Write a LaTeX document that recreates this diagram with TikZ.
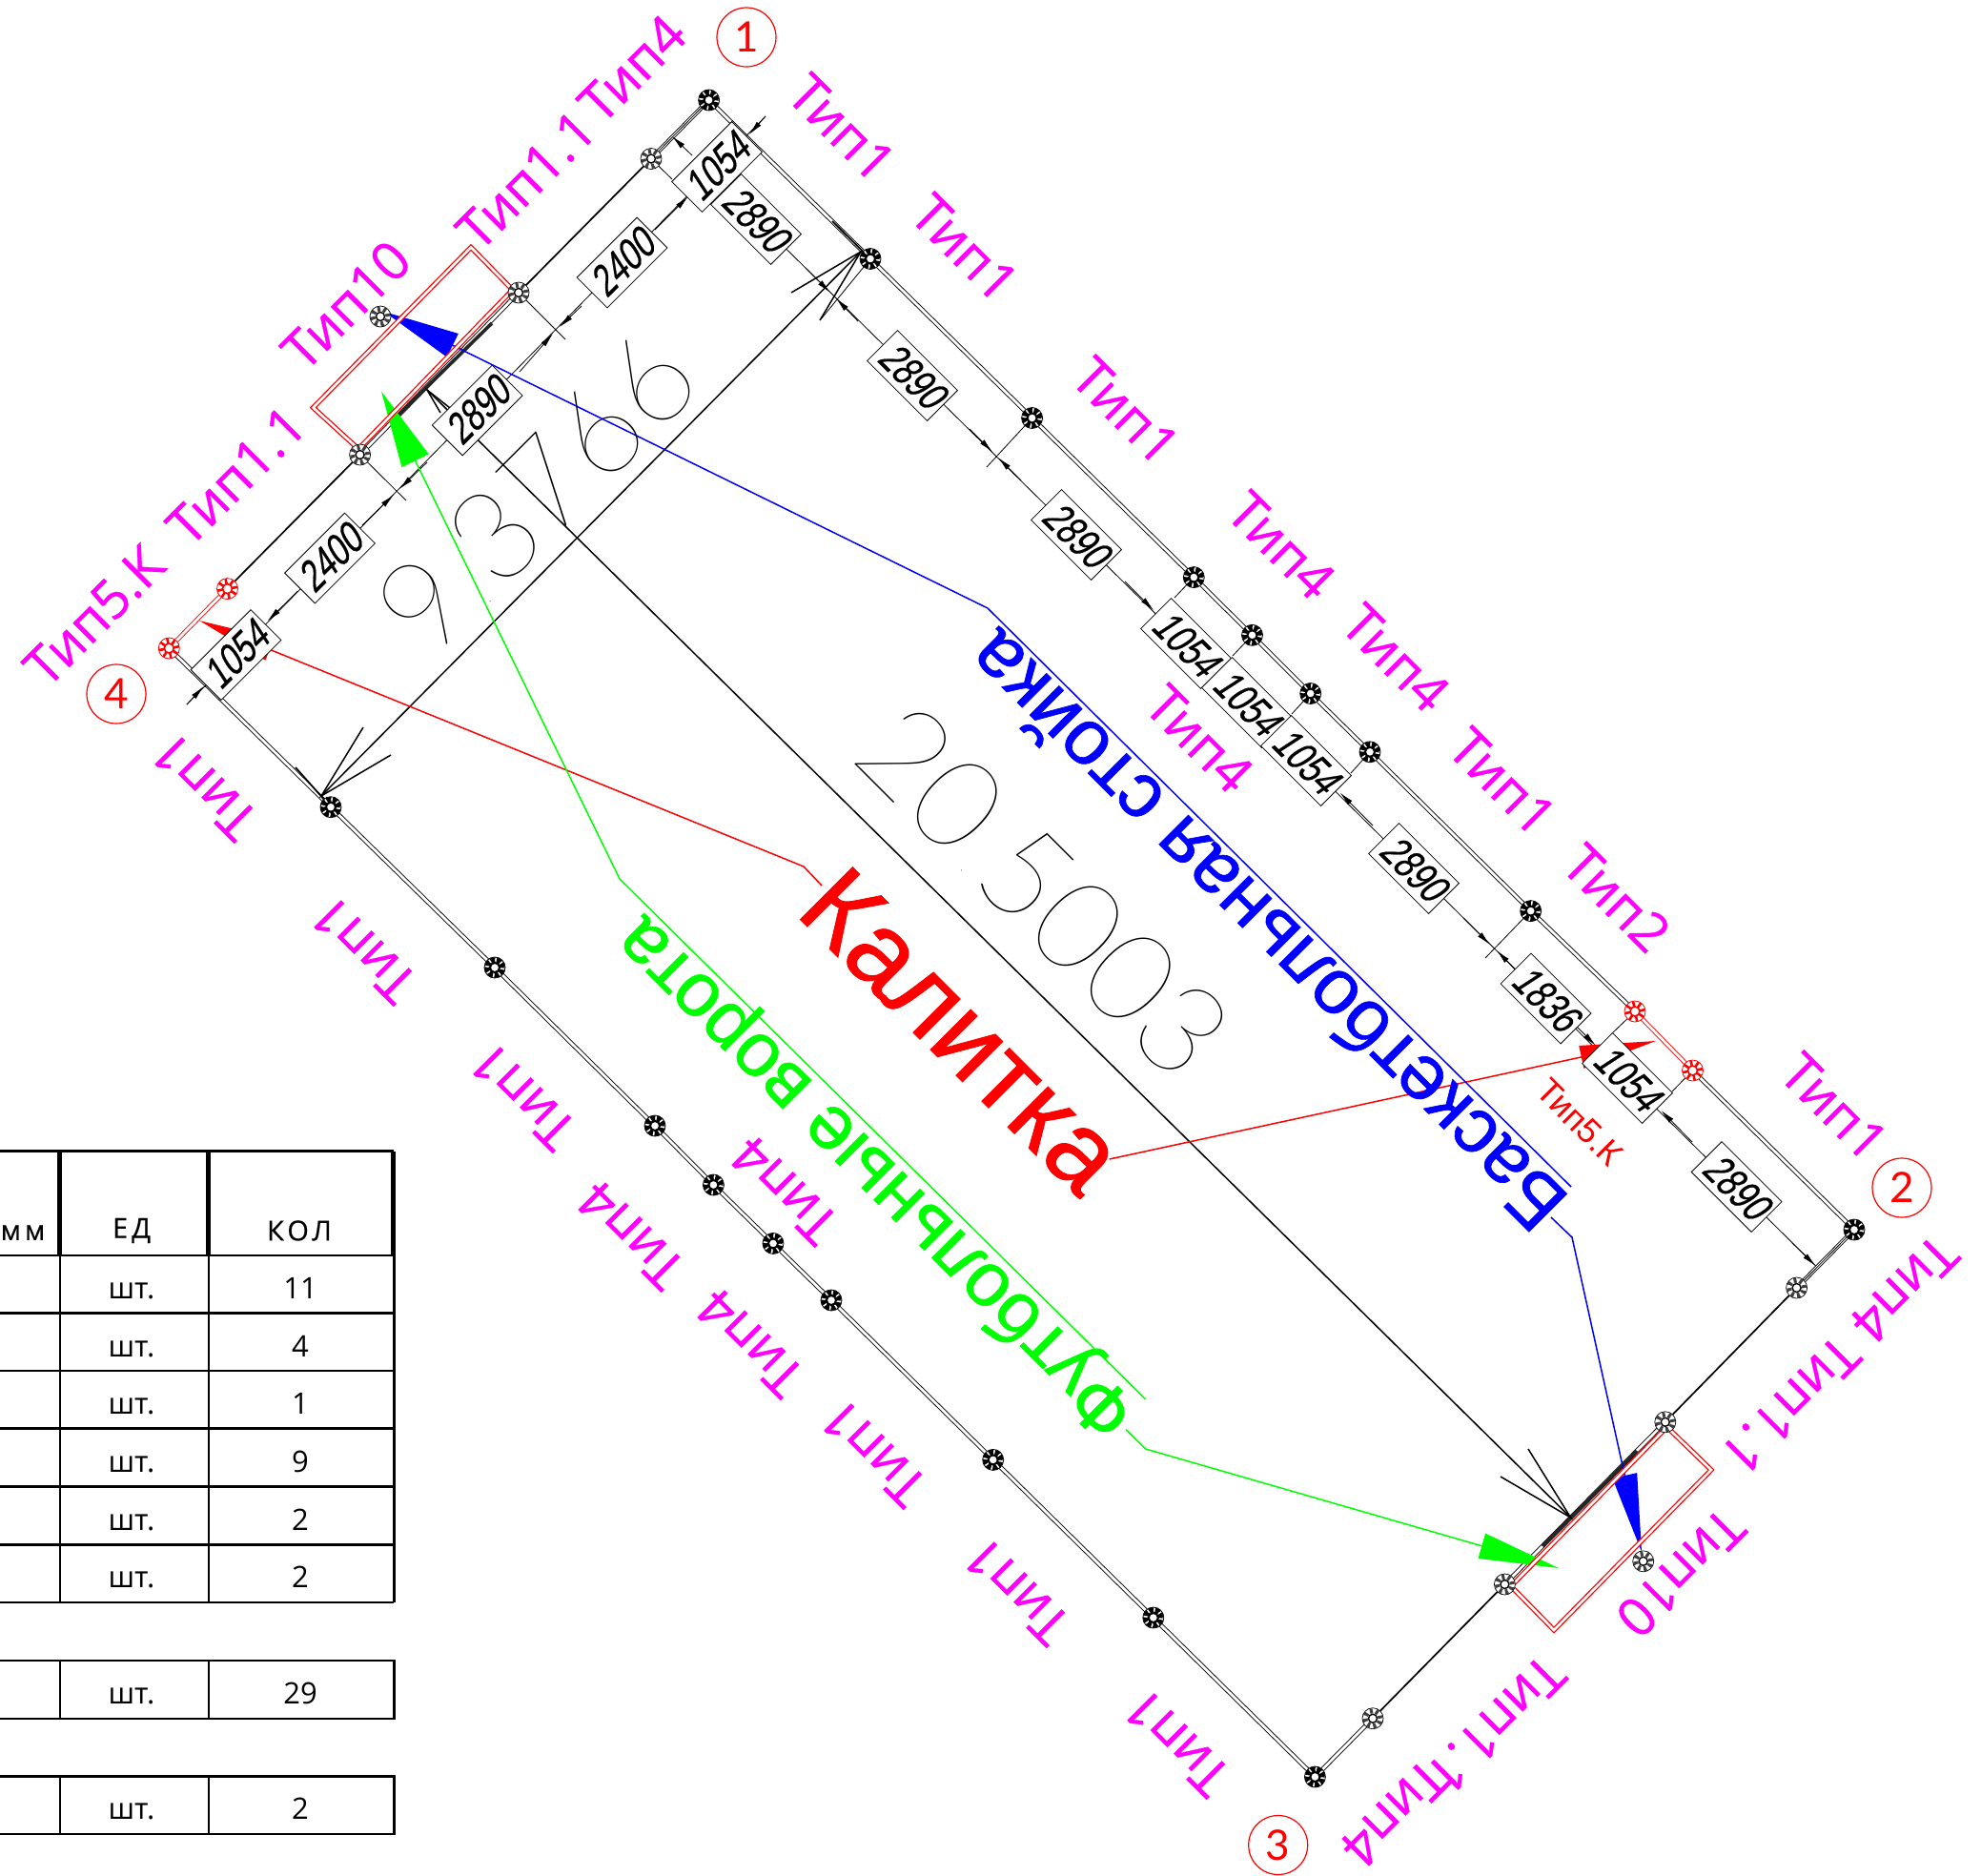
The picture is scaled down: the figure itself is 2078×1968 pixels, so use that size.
\documentclass[tikz,border=0pt]{standalone}
\usepackage{fontspec}
\usepackage{graphicx}
\setmainfont{Liberation Sans}
\newfontfamily\magf[FakeBold=0.5]{Open Sans}
\newfontfamily\thinf{Lato}[UprightFont=* Hairline]
\newfontfamily\circf{Lato}
\newfontfamily\tabf[LetterSpace=14,FakeBold=0.6]{Open Sans}
\newfontfamily\tabn{Open Sans}
\newfontfamily\boldf[FakeBold=0.8]{Liberation Sans}
\newfontfamily\dimf[FakeSlant=0.28,FakeBold=0.5]{Liberation Sans}
\usetikzlibrary{arrows.meta}
\definecolor{mg}{RGB}{255,0,255}
\definecolor{rd}{RGB}{255,0,0}
\definecolor{gn}{RGB}{0,255,0}
\definecolor{bl}{RGB}{0,0,255}
\newcommand\dimt[1]{\scalebox{.76}[1]{\dimf\fontsize{45}{45}\selectfont #1}}
\pgfdeclarelayer{back}
\pgfsetlayers{back,main}
\tikzset{
  postn/.style={circle,draw=black,fill=white,minimum size=22pt,inner sep=0pt,line width=.8pt,path picture={
    \draw[black,line width=5.5pt,dash pattern=on 4.4pt off 1.8pt] (path picture bounding box.center) circle[radius=8pt];
    \draw[black,fill=white,line width=2pt] (path picture bounding box.center) circle[radius=5pt];}},
  postr/.style={circle,draw=rd,fill=white,minimum size=22pt,inner sep=0pt,line width=.8pt,path picture={
    \draw[rd,line width=5.5pt,dash pattern=on 2.6pt off 3.7pt] (path picture bounding box.center) circle[radius=8pt];
    \draw[rd,fill=white,line width=1.6pt] (path picture bounding box.center) circle[radius=5pt];}},
  postl/.style={circle,draw=black,fill=white,minimum size=22pt,inner sep=0pt,line width=.7pt,path picture={
    \draw[black!75,line width=5pt,dash pattern=on 3pt off 3.3pt] (path picture bounding box.center) circle[radius=8pt];
    \draw[black,fill=white,line width=1.4pt] (path picture bounding box.center) circle[radius=4.5pt];}},
  dimbox/.style={draw=black,fill=white,minimum width=89pt,minimum height=45pt,inner sep=0pt,line width=.8pt},
  maglab/.style={text=mg,font=\magf\fontsize{56}{56}\selectfont,inner sep=0pt},
  wall/.style={draw=black,line width=.9pt,double=white,double distance=2.8pt},
  wallr/.style={draw=rd,line width=.9pt,double=white,double distance=2.8pt},
  walls/.style={draw=black,line width=1.7pt},
  wallc/.style={draw=black,line width=.8pt},
  wallt/.style={draw=black!85,line width=3.6pt},
  thinl/.style={draw=black,line width=.8pt},
  dima/.style={draw=black,line width=.8pt,-{Latex[length=15pt,width=6pt]}},
  bigdim/.style={draw=black,line width=1.5pt},
  circlab/.style={circle,draw=rd,line width=1.2pt,minimum size=62pt,inner sep=0pt,text=rd,font=\circf\fontsize{44}{44}\selectfont},
  leadr/.style={draw=rd,line width=1.5pt},
  leadg/.style={draw=gn,line width=1.5pt},
  leadb/.style={draw=bl,line width=1.5pt},
  redrect/.style={draw=rd,line width=1.3pt,double=white,double distance=2.6pt,line join=miter},
  tabl/.style={draw=black,line width=2.4pt},
  tabh/.style={draw=black,line width=5pt},
  tabt/.style={font=\tabn\fontsize{31}{31}\selectfont,inner sep=0pt},
  tabhd/.style={font=\tabf\fontsize{29}{29}\selectfont,inner sep=0pt},
  bigt/.style={font=\thinf\fontsize{132}{132}\selectfont,inner sep=0pt,text=black}
}
\begin{document}
\begin{tikzpicture}[x=1pt,y=-1pt]
\useasboundingbox (0,0) rectangle (2078,1968);
% posts
\node[postn] (p1) at (743.6,105) {};
\node[postl] (p2) at (683,166.5) {};
\node[postl] (p3) at (544,307) {};
\node[postl] (p4) at (377.6,477) {};
\node[postr] (p5) at (238.5,617.6) {};
\node[postr] (p6) at (177.3,680) {};
\node[postn] (p7) at (347,846.7) {};
\node[postn] (q1) at (519,1015) {};
\node[postn] (q2) at (687,1181) {};
\node[postn] (q3) at (748.4,1243) {};
\node[postn] (q4) at (811,1304.4) {};
\node[postn] (q5) at (872,1364) {};
\node[postn] (q6) at (1041.7,1531.4) {};
\node[postn] (q7) at (1209.8,1697) {};
\node[postn] (c3) at (1379.4,1864) {};
\node[postl] (s1) at (1440,1802.7) {};
\node[postl] (s2) at (1578.4,1662) {};
\node[postl] (s3) at (1746.8,1491.8) {};
\node[postl] (s4) at (1884.6,1351) {};
\node[postn] (c2) at (1945,1290) {};
\node[postr] (r1) at (1775.5,1123) {};
\node[postr] (r2) at (1715,1061) {};
\node[postn] (t1) at (1605.7,955.6) {};
\node[postn] (t2) at (1437,788.8) {};
\node[postn] (t3) at (1374.7,727.5) {};
\node[postn] (t4) at (1313.5,666.3) {};
\node[postn] (t5) at (1252.3,605.6) {};
\node[postn] (t6) at (1082.6,438.5) {};
\node[postn] (t7) at (913,271.5) {};
\node[postl] (g1) at (399,332) {};
\node[postl] (g2) at (1723.7,1637.8) {};
% dimension boxes
\node[dimbox,rotate=-45] (bb1) at (793,230) {\dimt{2890}};
\node[dimbox,rotate=45] (ba1) at (752,175) {\dimt{1054}};
\node[dimbox,rotate=45] (ba2) at (652.5,275.5) {\dimt{2400}};
\node[dimbox,rotate=45] (ba3) at (500.7,430.5) {\dimt{2890}};
\node[dimbox,rotate=45] (ba4) at (346,585.5) {\dimt{2400}};
\node[dimbox,rotate=45] (ba5) at (247.5,687) {\dimt{1054}};
\node[dimbox,rotate=-45] (bb2) at (957,394) {\dimt{2890}};
\node[dimbox,rotate=-45] (bb3) at (1129,561) {\dimt{2890}};
\node[dimbox,rotate=-45] (bb4) at (1244,675) {\dimt{1054}};
\node[dimbox,rotate=-45] (bb5) at (1308,737) {\dimt{1054}};
\node[dimbox,rotate=-45] (bb6) at (1370,798) {\dimt{1054}};
\node[dimbox,rotate=-45] (bb7) at (1483,911) {\dimt{2890}};
\node[dimbox,rotate=-45] (bb8) at (1621.5,1047.5) {\dimt{1836}};
\node[dimbox,rotate=-45] (bb9) at (1707,1131) {\dimt{1054}};
\node[dimbox,rotate=-45] (bb10) at (1821.6,1245) {\dimt{2890}};
% free coordinates
\coordinate (da1) at (803,122);
\coordinate (da2) at (196,739);
\coordinate (db1) at (770,207);
\coordinate (db2) at (1904.6,1328);
\coordinate (ta) at (593,356);
\coordinate (tb) at (426,525);
\coordinate (tc) at (861,335);
\coordinate (td) at (1035,490);
\coordinate (te) at (1558,1005);
\coordinate (tf) at (705,188);
\coordinate (tg) at (1232,627);
\coordinate (th) at (1293,688);
\coordinate (ti) at (1355,749);
\coordinate (tj) at (1417,811);
\coordinate (tk) at (1691,1084);
\coordinate (tl) at (1754,1145);
\coordinate (rl1) at (843,909);
\coordinate (rl2) at (862,929);
\coordinate (rl3) at (287,683);
\coordinate (rtip1) at (209,651);
\coordinate (rr1) at (1163.6,1216);
\coordinate (rtip2) at (1737,1092);
\coordinate (bl1) at (1036,638);
\coordinate (bl2) at (1648,1245);
\coordinate (bl3) at (1627,1277);
\coordinate (bl4) at (1649,1298);
\coordinate (btip1) at (403,327);
\coordinate (btip2) at (1722,1628);
\coordinate (gl1) at (650,922);
\coordinate (gl2) at (1201.7,1468);
\coordinate (gl3) at (1181,1499.6);
\coordinate (gl4) at (1201.7,1520);
\coordinate (gtip1) at (400,410.5);
\coordinate (gtip2) at (1635,1645);
\coordinate (bda) at (337,835);
\coordinate (bdb) at (903,264);
\coordinate (bdc) at (448,409);
\coordinate (bdd) at (1647.6,1592);
\begin{pgfonlayer}{back}
 % walls
 \draw[wall] (p1.center) -- (t7.center) -- (t6.center) -- (t5.center) -- (t4.center) -- (t3.center) -- (t2.center) -- (t1.center) -- (r2.center);
 \draw[wallr] (r2.center) -- (r1.center);
 \draw[wall] (r1.center) -- (c2.center) -- (s4.center);
 \draw[walls] (s4.center) -- (s3.center);
 \draw[wall] (s3.center) -- (s2.center);
 \draw[walls] (s2.center) -- (s1.center);
 \draw[wall] (s1.center) -- (c3.center) -- (q7.center) -- (q6.center) -- (q5.center) -- (q4.center) -- (q3.center) -- (q2.center) -- (q1.center) -- (p7.center) -- (p6.center);
 \draw[wallr] (p6.center) -- (p5.center);
 \draw[walls] (p5.center) -- (p4.center);
 \draw[wall] (p4.center) -- (p3.center);
 \draw[walls] (p3.center) -- (p2.center);
 \draw[wall] (p2.center) -- (p1.center);
 % heavy wall parts
 \draw[wallt] (516,339) -- (411,442);
 \draw[wallt] (1618,1622) -- (1717,1522);
 \draw[walls] (873,232) -- (t7.center);
 \draw[walls] (310,805) -- (p7.center);
 \draw[wallc] (p1.center) -- (p2.center);
 \draw[wallc] (c2.center) -- (s4.center);
 % dimension lines
 \draw[thinl] (da1) -- (da2);
 \draw[thinl] (db1) -- (db2);
 \draw[thinl] (p3.center) -- (ta);
 \draw[thinl] (p4.center) -- (tb);
 \draw[thinl] (p2.center) -- (tf);
 \draw[thinl] (t7.center) -- (tc);
 \draw[thinl] (t6.center) -- (td);
 \draw[thinl] (t5.center) -- (tg);
 \draw[thinl] (t4.center) -- (th);
 \draw[thinl] (t3.center) -- (ti);
 \draw[thinl] (t2.center) -- (tj);
 \draw[thinl] (t1.center) -- (te);
 \draw[thinl] (r2.center) -- (tk);
 \draw[thinl] (r1.center) -- (tl);
 % dimension arrowheads
 \draw[dima] (803,122) -- (786,141);
 \draw[dima] (726,163) -- (705,143);
 \draw[dima] (687,241) -- (722,206);
 \draw[dima] (610,321) -- (587,343);
 \draw[dima] (545,390) -- (580,350);
 \draw[dima] (380,551) -- (413,519);
 \draw[dima] (448,485) -- (419,513);
 \draw[dima] (312.5,620) -- (280.6,651.5);
 \draw[dima] (196,739) -- (213.6,720);
 \draw[dima] (845,281) -- (871,307);
 \draw[dima] (900,337) -- (877,313);
 \draw[dima] (1017,450) -- (1041,474);
 \draw[dima] (1071,504) -- (1047,480);
 \draw[dima] (1180,610) -- (1210,640);
 \draw[dima] (1440,866) -- (1405.6,831.6);
 \draw[dima] (1535,963) -- (1563,991);
 \draw[dima] (1592,1020) -- (1570,997);
 \draw[dima] (1650,1073) -- (1674,1097);
 \draw[dima] (1775,1198) -- (1742.5,1165);
 \draw[dima] (1880,1304) -- (1904.6,1328);
 % big dimensions
 \draw[bigdim] (bda) -- (bdb);
 \draw[bigdim] (bdc) -- (bdd);
 \draw[bigdim] (830,307) -- (bdb) -- (860,336);
 \draw[bigdim] (381,763) -- (bda) -- (410,792);
 \draw[bigdim] (472,428) -- (bdc) -- (462,433);
 \draw[bigdim] (1603,1520) -- (bdd) -- (1574,1549);
 % leaders
 \draw[leadr,-{Triangle[length=80pt,width=24pt]}] (rl2) -- (rl1) -- (rl3) -- (rtip1);
 \draw[leadr,-{Triangle[length=80pt,width=24pt]}] (rr1) -- (rtip2);
 \draw[leadb] (bl2) -- (bl1);
 \draw[leadb,-{Triangle[length=80pt,width=27pt]}] (bl1) -- (btip1);
 \draw[leadb,-{Triangle[length=82pt,width=26pt]}] (bl3) -- (bl4) -- (btip2);
 \draw[leadg] (gl2) -- (gl1);
 \draw[leadg,-{Triangle[length=81pt,width=31pt]}] (gl1) -- (gtip1);
 \draw[leadg,-{Triangle[length=84pt,width=27pt]}] (gl3) -- (gl4) -- (gtip2);
 % red rectangles
 \draw[redrect] (494,259.5) -- (537.7,304) -- (376,471) -- (328.5,427.6) -- cycle;
 \draw[redrect] (1748.6,1497) -- (1795,1542) -- (1630,1710) -- (1585,1664) -- cycle;
\end{pgfonlayer}
% magenta labels
\node[maglab,rotate=-45] (m1) at (883,134) {Тип1};
\node[maglab,rotate=-45] (m2) at (1012,260) {Тип1};
\node[maglab,rotate=-45] (m3) at (1181,431) {Тип1};
\node[maglab,rotate=-45] (m4) at (1344,572) {Тип4};
\node[maglab,rotate=-45] (m5) at (1464,690) {Тип4};
\node[maglab,rotate=-45] (m6) at (1258,775) {Тип4};
\node[maglab,rotate=-45] (m7) at (1576,820) {Тип1};
\node[maglab,rotate=-45] (m8) at (1696,942) {Тип2};
\node[maglab,rotate=-45] (m9) at (1924,1161) {Тип1};
\node[maglab,rotate=45] (m10) at (663,72) {Тип4};
\node[maglab,rotate=45] (m11) at (552,189) {Тип1.1};
\node[maglab,rotate=45] (m12) at (363,320) {Тип10};
\node[maglab,rotate=45] (m13) at (248,499) {Тип1.1};
\node[maglab,rotate=45] (m14) at (99,646) {Тип5.К};
\node[maglab,rotate=135] (n1) at (214,825) {Тип1};
\node[maglab,rotate=135] (n2) at (381,996) {Тип1};
\node[maglab,rotate=135] (n3) at (548,1150) {Тип1};
\node[maglab,rotate=135] (n4) at (662,1296) {Тип4};
\node[maglab,rotate=135] (n5) at (823,1249) {Тип4};
\node[maglab,rotate=135] (n6) at (787,1409) {Тип4};
\node[maglab,rotate=135] (n7) at (916,1524) {Тип1};
\node[maglab,rotate=135] (n8) at (1066,1669) {Тип1};
\node[maglab,rotate=135] (n9) at (1234,1828) {Тип1};
\node[maglab,rotate=225] (u1) at (1763,1650) {Тип10};
\node[maglab,rotate=225] (u2) at (1569,1809) {Тип1.1};
\node[maglab,rotate=225] (u3) at (1463,1902) {Тип4};
\node[maglab,rotate=225] (u4) at (1878,1474) {Тип1.1};
\node[maglab,rotate=225] (u5) at (1998,1352) {Тип4};
\node[rotate=-45,text=rd,inner sep=0pt,font=\fontsize{36}{36}\selectfont] (rtxt) at (1657,1177) {Тип5.К};
% coloured titles
\node[rotate=-45,text=rd,inner sep=0pt,font=\boldf\fontsize{113}{113}\selectfont] (kal) at (1010,1081) {Калитка};
\node[rotate=135,text=bl,inner sep=0pt,font=\boldf\fontsize{82}{82}\selectfont] (bas) at (1327,978) {Баскетбольная стойка};
\node[rotate=135,text=gn,inner sep=0pt,font=\boldf\fontsize{80}{80}\selectfont] (fut) at (921,1233) {Футбольные ворота};
% big numbers
\node[bigt,rotate=45] (n93) at (563,517) {9\kern12pt{\fontsize{14}{14}\selectfont.}\kern12pt3766};
\node[bigt,rotate=-45] (n20) at (1095,935) {20\kern12pt{\fontsize{14}{14}\selectfont.}\kern12pt5003};
% circled numbers
\node[circlab] (c1n) at (783,39) {1};
\node[circlab] (c2n) at (1995,1246) {2};
\node[circlab] (c3n) at (1340.7,1935.5) {3};
\node[circlab] (c4n) at (122,728) {4};
% table
\draw[tabl] (0,1207.6) -- (413.3,1207.6);
\draw[tabl] (0,1316.7) -- (413.3,1316.7);
\draw[tabl] (0,1377.5) -- (413.3,1377.5);
\draw[tabl] (0,1437.8) -- (413.3,1437.8);
\draw[tabl] (0,1498.6) -- (413.3,1498.6);
\draw[tabl] (0,1559.5) -- (413.3,1559.5);
\draw[tabl] (0,1620.3) -- (413.3,1620.3);
\draw[tabl] (0,1681) -- (413.3,1681);
\draw[tabl] (0,1742) -- (413.3,1742) -- (413.3,1803) -- (0,1803);
\draw[tabl] (0,1863.5) -- (413.3,1863.5) -- (413.3,1924) -- (0,1924);
\draw[tabl] (62.7,1316.7) -- (62.7,1681);
\draw[tabl] (218.7,1316.7) -- (218.7,1681);
\draw[tabl] (413.3,1316.7) -- (413.3,1681);
\draw[tabl] (62.7,1742) -- (62.7,1803);
\draw[tabl] (218.7,1742) -- (218.7,1803);
\draw[tabl] (62.7,1863.5) -- (62.7,1924);
\draw[tabl] (218.7,1863.5) -- (218.7,1924);
\draw[tabh] (62,1207.6) -- (62,1316.7);
\draw[tabh] (218,1207.6) -- (218,1316.7);
\draw[tabh] (412,1207.6) -- (412,1316.7);
\node[tabhd] (hmm) at (24,1293) {мм};
\node[tabhd] (hed) at (138,1291) {ЕД};
\node[tabhd] (hkol) at (314,1291) {КОЛ};
\foreach \yy/\vv in {1354/11,1415/4,1475/1,1536/9,1597/2,1657/2,1779/29,1900/2}{
  \node[tabt] at (138,\yy) {шт.};
  \node[tabt] at (315,\yy-3) {\vv};
}
\end{tikzpicture}
\end{document}
